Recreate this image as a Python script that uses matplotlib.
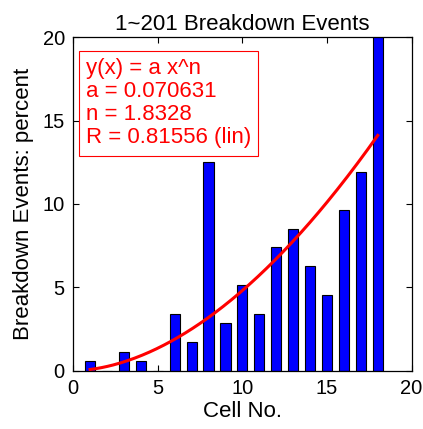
import numpy as np
import matplotlib.pyplot as plt

plt.rcParams['font.family'] = ['Liberation Sans', 'DejaVu Sans']

cells = list(range(1, 19))
percent = [0.57, 0, 1.14, 0.57, 0, 3.41, 1.70, 12.5, 2.84, 5.11,
           3.41, 7.39, 8.52, 6.25, 4.55, 9.66, 11.93, 20.45]

# power law fit y = a x^n
a = 0.070631
n = 1.8328
r = 0.81556

fig = plt.figure(figsize=(4.23, 4.29), dpi=100)
ax = fig.add_axes([0.173, 0.136, 0.800, 0.777])

ax.bar(cells, percent, width=0.6, color='#0000ff', edgecolor='black',
       linewidth=0.8, zorder=2)

xf = np.linspace(1, 18, 200)
ax.plot(xf, a * xf ** n, color='red', linewidth=2.2, zorder=3)

ax.set_xlim(0, 20)
ax.set_ylim(0, 20)
ax.set_xticks([0, 5, 10, 15, 20])
ax.set_yticks([0, 5, 10, 15, 20])
ax.tick_params(direction='in', top=True, right=True, labelsize=14.5,
               length=4, width=0.8)
ax.tick_params(axis='x', pad=6)
ax.tick_params(axis='y', pad=6)
for s in ax.spines.values():
    s.set_linewidth(0.9)

ax.set_title('1~201 Breakdown Events', fontsize=16, pad=5)
ax.set_xlabel('Cell No.', fontsize=16, labelpad=2)
ax.set_ylabel('Breakdown Events: percent', fontsize=16, labelpad=6)

txt = 'y(x) = a x^n\na = %.6f\nn = %.4f\nR = %.5f (lin)' % (a, n, r)
ax.text(0.75, 18.75, txt, color='red', fontsize=16, va='top', ha='left',
        linespacing=1.13, zorder=4,
        bbox=dict(boxstyle='square,pad=0.32', facecolor='white',
                  edgecolor='red', linewidth=0.8))

fig.savefig('out.png', dpi=100)
